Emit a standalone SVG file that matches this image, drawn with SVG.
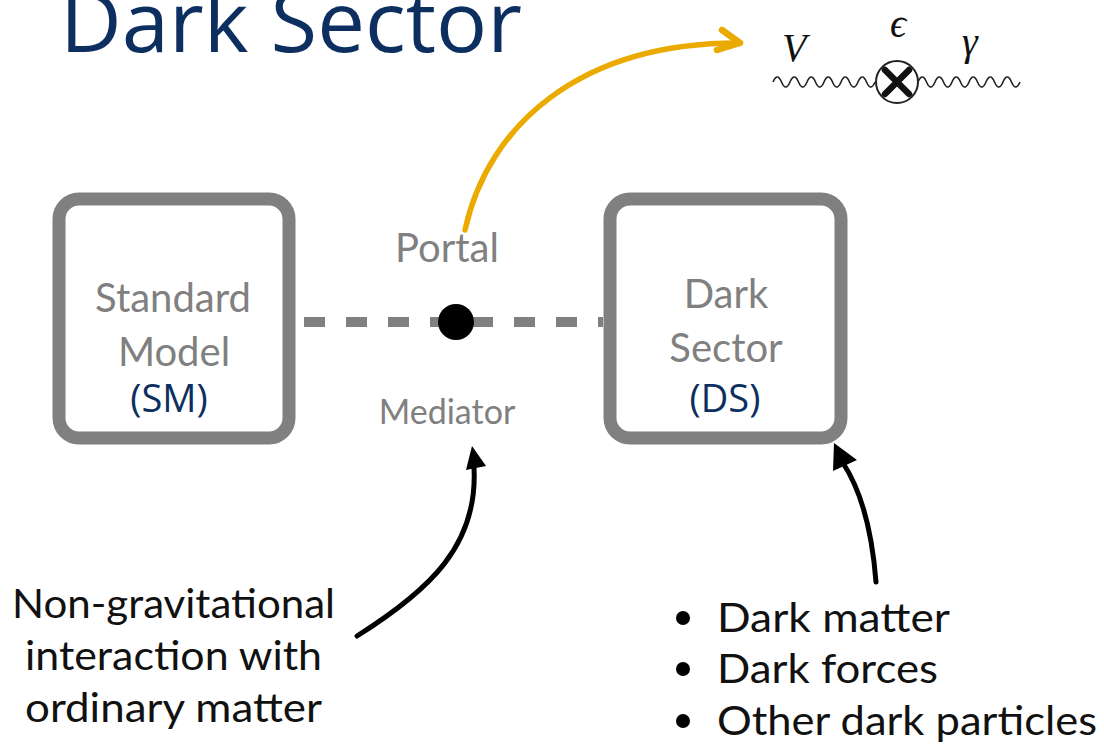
<svg xmlns="http://www.w3.org/2000/svg" width="1104" height="746" viewBox="0 0 1104 746">
<defs>
<style>
.box{fill:none;stroke:#808080;stroke-width:13}
.gl{font-family:Lato,"Open Sans",sans-serif;fill:#808080;text-anchor:middle}
.bl{font-family:"Open Sans","Liberation Sans",sans-serif;fill:#0d2f5f;text-anchor:middle}
.tx{font-family:Lato,"Open Sans",sans-serif;fill:#111;font-size:40px}
.mth{font-family:"Liberation Serif","DejaVu Serif",serif;font-style:italic;fill:#111}
.wave{fill:none;stroke:#222;stroke-width:1.6}
.ar{fill:none;stroke:#000;stroke-width:5;stroke-linecap:round}
</style>
</defs>
<rect width="1104" height="746" fill="#fff"/>
<text id="title" x="60" y="52" font-family="'Open Sans','Liberation Sans',sans-serif" font-size="84" fill="#0d2f5f" textLength="462" lengthAdjust="spacingAndGlyphs">Dark Sector</text>

<g id="connectors">
<line x1="295" y1="322" x2="603" y2="322" stroke="#808080" stroke-width="10" stroke-dasharray="21 21" stroke-dashoffset="-9"/>
<path d="M465,230 C488,125 580,43 738,43" fill="none" stroke="#eaaa00" stroke-width="5.5" stroke-linecap="round"/>
<path d="M722,30 L740,43 L717,50" fill="none" stroke="#eaaa00" stroke-width="6.5" stroke-linecap="round" stroke-linejoin="round"/>
<path class="ar" d="M357,636 C430,590 478,545 474,468"/>
<path d="M472,446 L466,470 L486,466 Z" fill="#000"/>
<path class="ar" d="M876,582 C872,530 862,492 843,463"/>
<path d="M834,443 L833,471 L857,460 Z" fill="#000"/>
</g>

<g id="sm">
<rect class="box" x="59" y="199" width="230" height="239" rx="20"/>
<text class="gl" x="173" y="312" font-size="40">Standard</text>
<text class="gl" x="174" y="366" font-size="40">Model</text>
<text class="bl" x="169" y="412" font-size="38">(SM)</text>
</g>

<g id="ds">
<rect class="box" x="610" y="199" width="231" height="239" rx="20"/>
<text class="gl" x="726" y="308" font-size="40">Dark</text>
<text class="gl" x="726" y="362" font-size="40">Sector</text>
<text class="bl" x="725" y="412" font-size="38">(DS)</text>
</g>

<g id="mediator">
<circle cx="456" cy="322" r="18" fill="#000"/>
<text class="gl" x="447" y="262" font-size="40">Portal</text>
<text class="gl" x="447" y="424" font-size="34">Mediator</text>
</g>

<g id="feynman">
<path class="wave" d="M773,82 q4.25,-10 8.5,0 t8.5,0 t8.5,0 t8.5,0 t8.5,0 t8.5,0 t8.5,0 t8.5,0 t8.5,0 t8.5,0 t8.5,0 t8.5,0"/>
<path class="wave" d="M918,82 q4.25,-10 8.5,0 t8.5,0 t8.5,0 t8.5,0 t8.5,0 t8.5,0 t8.5,0 t8.5,0 t8.5,0 t8.5,0 t8.5,0 t8.5,0"/>
<circle cx="897" cy="82" r="21" fill="#fff" stroke="#222" stroke-width="2"/>
<path d="M885,70 L909,94 M909,70 L885,94" stroke="#111" stroke-width="6.5" stroke-linecap="round"/>
<text class="mth" x="782" y="61" font-size="40">V</text>
<text class="mth" x="898" y="37" font-size="40" text-anchor="middle">ϵ</text>
<text class="mth" x="962" y="55" font-size="40">γ</text>
</g>

<g id="note-left">
<text class="tx" x="12" y="618" textLength="323" lengthAdjust="spacingAndGlyphs">Non-gravitational</text>
<text class="tx" x="25" y="670" textLength="297" lengthAdjust="spacingAndGlyphs">interaction with</text>
<text class="tx" x="25" y="722" textLength="297" lengthAdjust="spacingAndGlyphs">ordinary matter</text>
</g>

<g id="note-right">
<circle cx="683" cy="618" r="7" fill="#000"/>
<circle cx="683" cy="669" r="7" fill="#000"/>
<circle cx="683" cy="721" r="7" fill="#000"/>
<text class="tx" x="717" y="632" textLength="233" lengthAdjust="spacingAndGlyphs">Dark matter</text>
<text class="tx" x="717" y="683" textLength="221" lengthAdjust="spacingAndGlyphs">Dark forces</text>
<text class="tx" x="717" y="735" textLength="380" lengthAdjust="spacingAndGlyphs">Other dark particles</text>
</g>
</svg>
